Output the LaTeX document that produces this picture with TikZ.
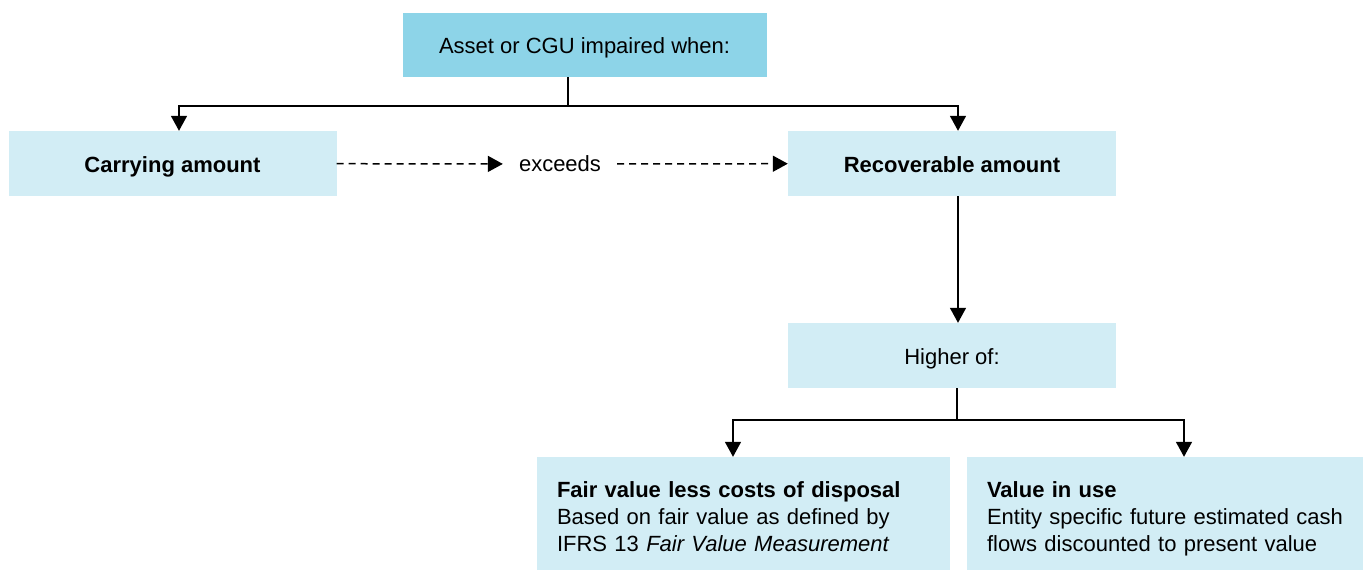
\documentclass[tikz,border=0pt]{standalone}
\usepackage{fontspec}
\setmainfont{Liberation Sans}
\usetikzlibrary{arrows.meta, positioning}

\definecolor{headblue}{RGB}{141,212,232}
\definecolor{paleblue}{RGB}{210,237,245}

\tikzset{
  box/.style={fill=paleblue, minimum width=328pt, minimum height=65pt, inner sep=0pt,
    text height=20pt, text depth=3pt, font=\fontsize{22}{27}\selectfont},
  headbox/.style={box, fill=headblue, minimum width=364pt, minimum height=64pt},
  notebox/.style={fill=paleblue, minimum height=125pt, inner xsep=20pt, inner ysep=0pt,
    align=left, font=\fontsize{22}{27}\selectfont},
  link/.style={line width=1.5pt, -{Triangle[width=16pt,length=15pt]}},
  dashlink/.style={link, dash pattern=on 7pt off 5pt},
}

\begin{document}
\begin{tikzpicture}[x=1pt, y=-1pt]
  \useasboundingbox (0,0) rectangle (1363,570);

  % Boxes
  \node[headbox] (head) at (584.5,45) {Asset or CGU impaired when:};
  \node[box] (carry) at (172.5,163.5) {\bfseries Carrying amount};
  \node[box] (recover) at (952,163.5) {\bfseries Recoverable amount};
  \node[font=\fontsize{22}{27}\selectfont, inner xsep=16pt] (exceeds) at (560,164) {exceeds};
  \node[box] (higher) at (952,355.5) {Higher of:};
  \node[notebox, text width=373pt] (fair) at (743.5,519.5)
    {\textbf{Fair value less costs of disposal}\strut\\
     Based on fair value as defined by\strut\\
     IFRS 13 \textit{Fair Value Measurement}\strut};
  \node[notebox, text width=356pt] (use) at (1165,519.5)
    {\textbf{Value in use}\strut\\
     Entity specific future estimated cash\strut\\
     flows discounted to present value\strut};

  % Connectors
  \coordinate (split) at (568,106);
  \draw[line width=1.5pt] (head.south -| split) -- (split);
  \draw[link] (split) -| ([xshift=6.5pt]carry.north);
  \draw[link] (split) -| ([xshift=6pt]recover.north);

  \draw[dashlink] (carry) -- (exceeds);
  \draw[dashlink] (exceeds) -- (recover);

  \draw[link] ([xshift=6pt]recover.south) -- ([xshift=6pt]higher.north);

  \coordinate (split2) at (957,420);
  \draw[line width=1.5pt] (higher.south -| split2) -- (split2);
  \draw[link] (split2) -| ([xshift=-10.5pt]fair.north);
  \draw[link] (split2) -| ([xshift=19pt]use.north);

\end{tikzpicture}
\end{document}
